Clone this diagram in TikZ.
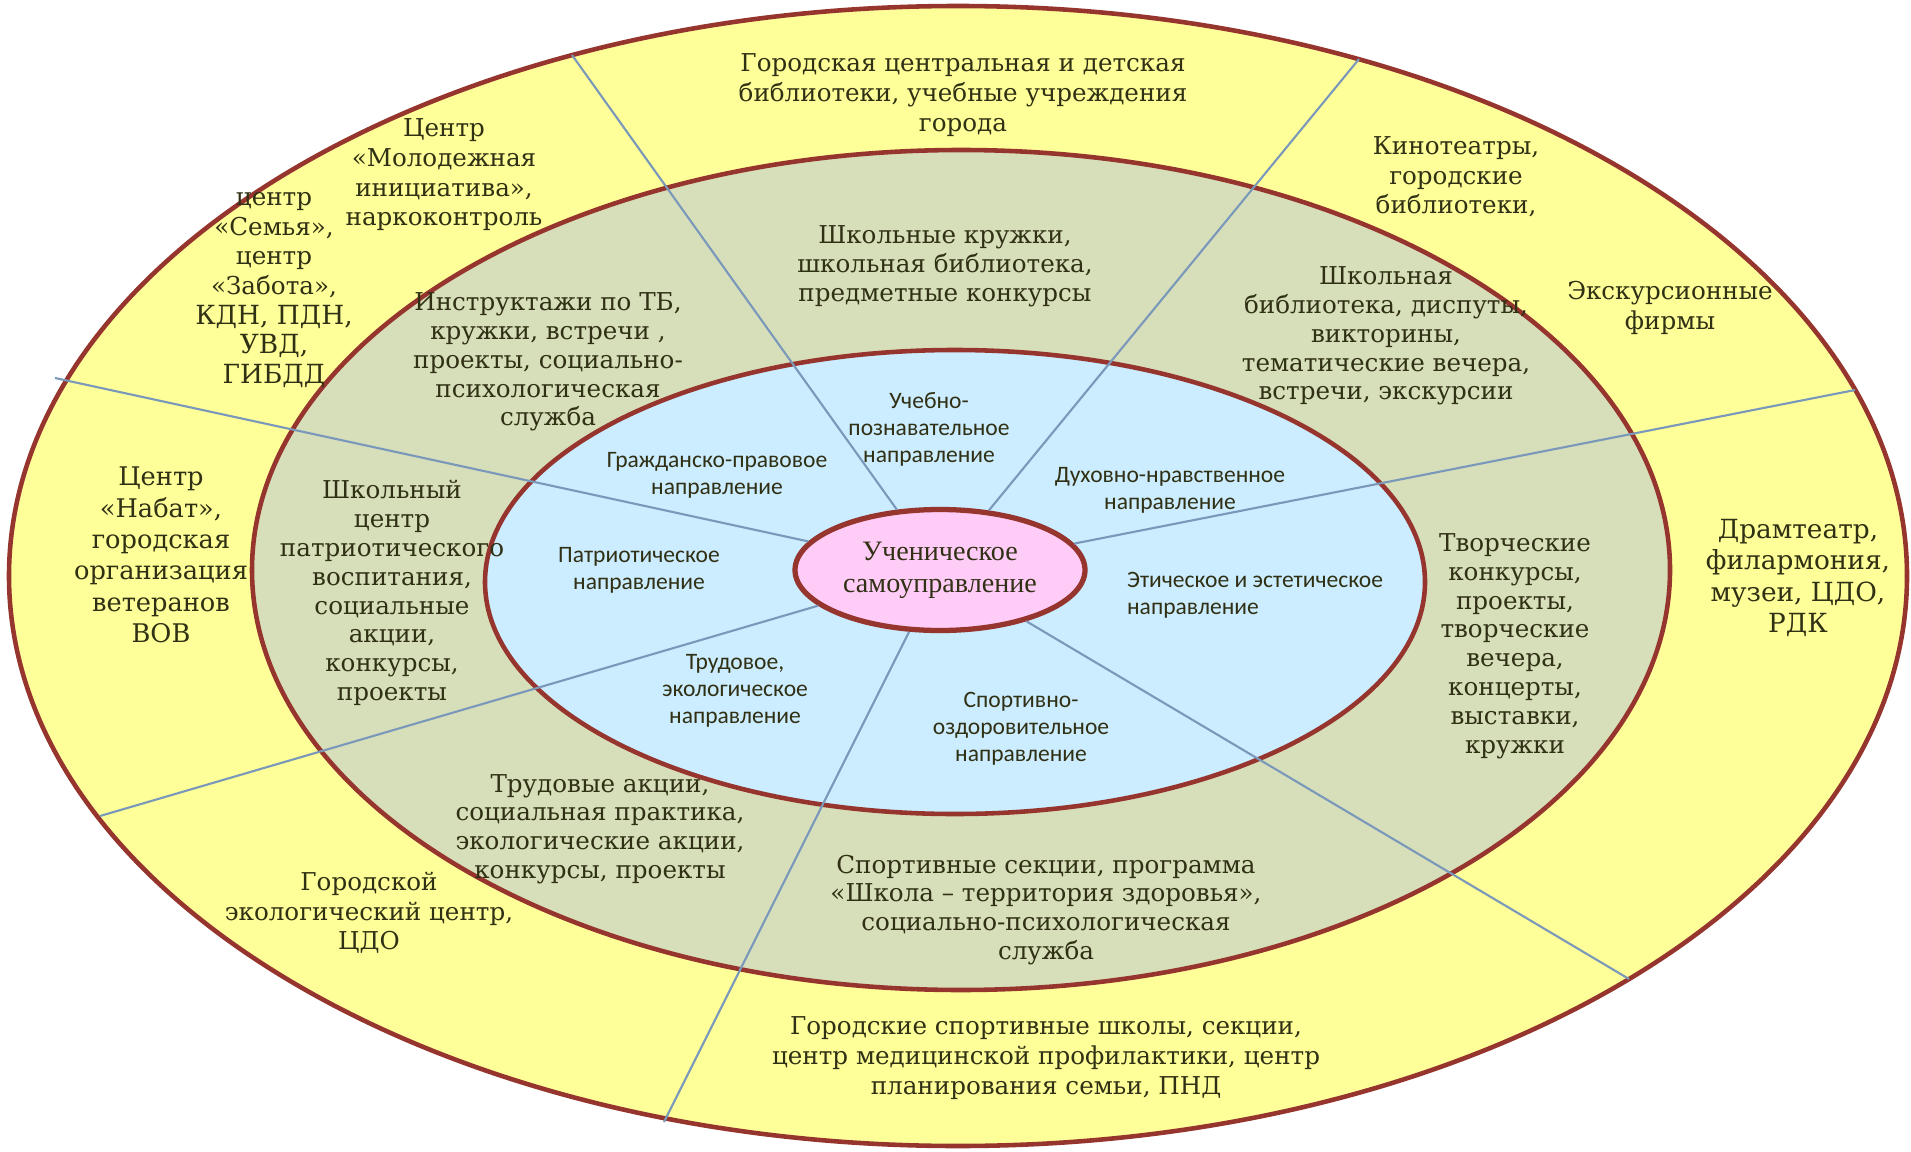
\documentclass[tikz,border=0pt]{standalone}
\usepackage{fontspec}
\setmainfont{DejaVu Serif}
\newfontfamily\calfont{Carlito}
\newfontfamily\timesfont{Liberation Serif}
\usetikzlibrary{shapes.geometric}

\definecolor{ringyellow}{RGB}{255,255,153}
\definecolor{ringgreen}{RGB}{215,222,186}
\definecolor{ringblue}{RGB}{204,236,255}
\definecolor{corepink}{RGB}{255,204,248}
\definecolor{rimred}{RGB}{150,52,46}
\definecolor{spokeblue}{RGB}{122,152,186}
\definecolor{inktext}{RGB}{48,48,20}

\begin{document}
\begin{tikzpicture}[
        % Define styles for the rings, spokes and labels
        ring/.style={draw=rimred, line width=1.3pt},
        spoke/.style={draw=spokeblue, line width=0.6pt},
        core/.style={draw=rimred, line width=1.5pt, fill=corepink, ellipse, minimum width=2.9cm, minimum height=1.21cm, inner sep=0pt, align=center, text=inktext, font=\timesfont\fontsize{8}{9.2}\selectfont},
        outerlabel/.style={align=center, text=inktext, inner sep=1pt, font=\fontsize{7}{8.45}\selectfont},
        greenlabel/.style={align=center, text=inktext, inner sep=1pt, font=\fontsize{7}{8.2}\selectfont},
        bluelabel/.style={align=center, text=inktext, inner sep=1pt, font=\calfont\fontsize{6.7}{7.7}\selectfont}
    ]
    \useasboundingbox (0,0) rectangle (19.11,-11.52);

    % --- RINGS ---
    \draw[ring, fill=ringyellow] (9.58,-5.76) ellipse [x radius=9.49, y radius=5.70];
    \draw[ring, fill=ringgreen] (9.61,-5.70) ellipse [x radius=7.09, y radius=4.20];
    \draw[ring, fill=ringblue] (9.55,-5.82) ellipse [x radius=4.70, y radius=2.32];

    % Centre
    \node[core] (cen) at (9.40,-5.70) {Ученическое\\самоуправление};

    % --- SPOKES ---
    \coordinate (o1) at (5.72,-0.55);
    \coordinate (o2) at (13.59,-0.59);
    \coordinate (o3) at (0.55,-3.78);
    \coordinate (o4) at (18.55,-3.90);
    \coordinate (o5) at (1.00,-8.16);
    \coordinate (o6) at (6.64,-11.22);
    \coordinate (o7) at (16.29,-9.79);
    \foreach \o in {o1,o2,o3,o4,o5,o6,o7}
        \draw[spoke] (cen) -- (\o);

    % --- OUTER RING: city partners ---
    \node[outerlabel] (citylib) at (9.63,-0.95) {Городская центральная и детская\\библиотеки, учебные учреждения\\города};
    \node[outerlabel] (youth) at (4.44,-1.75) {Центр\\«Молодежная\\инициатива»,\\наркоконтроль};
    \node[outerlabel] (family) at (2.74,-2.90) {центр\\«Семья»,\\центр\\«Забота»,\\{\fontsize{7.5}{8.9}\selectfont КДН, ПДН,}\\{\fontsize{7.5}{8.9}\selectfont УВД,}\\{\fontsize{7.5}{8.9}\selectfont ГИБДД}};
    \node[outerlabel] (cinema) at (14.56,-1.77) {Кинотеатры,\\городские\\библиотеки,};
    \node[outerlabel] (excursion) at (16.70,-3.08) {Экскурсионные\\фирмы};
    \node[outerlabel, font=\fontsize{7.5}{8.9}\selectfont] (theatre) at (17.98,-5.78) {Драмтеатр,\\филармония,\\музеи, ЦДО,\\РДК};
    \node[outerlabel] (citysport) at (10.46,-10.58) {Городские спортивные школы, секции,\\центр медицинской профилактики, центр\\планирования семьи, ПНД};
    \node[outerlabel] (ecocity) at (3.69,-9.13) {Городской\\экологический центр,\\ЦДО};
    \node[outerlabel, font=\fontsize{7.3}{8.9}\selectfont] (nabat) at (1.61,-5.55) {Центр\\«Набат»,\\городская\\организация\\ветеранов\\ВОВ};

    % --- MIDDLE RING: school activities ---
    \node[greenlabel] (briefing) at (5.48,-3.62) {Инструктажи по ТБ,\\кружки, встречи ,\\проекты, социально-\\психологическая\\служба};
    \node[greenlabel] (clubs) at (9.45,-2.66) {Школьные кружки,\\школьная библиотека,\\предметные конкурсы};
    \node[greenlabel] (schoollib) at (13.86,-3.36) {Школьная\\библиотека, диспуты,\\викторины,\\тематические вечера,\\встречи, экскурсии};
    \node[greenlabel] (patriotctr) at (3.92,-5.93) {Школьный\\центр\\патриотического\\воспитания,\\социальные\\акции,\\конкурсы,\\проекты};
    \node[greenlabel] (creative) at (15.15,-6.46) {Творческие\\конкурсы,\\проекты,\\творческие\\вечера,\\концерты,\\выставки,\\кружки};
    \node[greenlabel] (labour) at (6.00,-8.29) {Трудовые акции,\\социальная практика,\\экологические акции,\\конкурсы, проекты};
    \node[greenlabel] (sportsec) at (10.46,-9.10) {Спортивные секции, программа\\«Школа – территория здоровья»,\\социально-психологическая\\служба};

    % --- INNER RING: directions ---
    \node[bluelabel] (learning) at (9.29,-4.29) {Учебно-\\познавательное\\направление};
    \node[bluelabel] (civic) at (7.17,-4.75) {Гражданско-правовое\\направление};
    \node[bluelabel] (moral) at (11.70,-4.90) {Духовно-нравственное\\направление};
    \node[bluelabel] (patriotic) at (6.39,-5.70) {Патриотическое\\направление};
    \node[bluelabel, align=left] (ethic) at (12.55,-5.95) {Этическое и эстетическое\\направление};
    \node[bluelabel] (labourdir) at (7.35,-6.91) {Трудовое,\\экологическое\\направление};
    \node[bluelabel] (health) at (10.21,-7.29) {Спортивно-\\оздоровительное\\направление};

\end{tikzpicture}
\end{document}
